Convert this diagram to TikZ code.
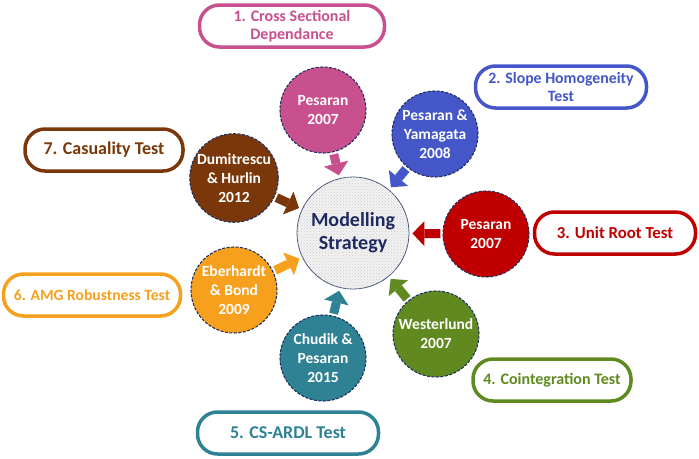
\documentclass[tikz,border=0pt]{standalone}
\usepackage{fontspec}
\setmainfont{Carlito}
\usepackage{xcolor}
\usepackage{tikz}
\usetikzlibrary{shapes,arrows,arrows.meta,positioning,patterns,calc}
\definecolor{modnavy}{RGB}{31,42,98}
\definecolor{modslate}{RGB}{68,84,120}
\definecolor{dashnavy}{RGB}{32,48,96}
\definecolor{modpink}{RGB}{201,80,142}
\definecolor{modblue}{RGB}{68,86,200}
\definecolor{modred}{RGB}{192,0,0}
\definecolor{modgreen}{RGB}{96,138,32}
\definecolor{modteal}{RGB}{46,130,148}
\definecolor{modorange}{RGB}{247,160,30}
\definecolor{modbrown}{RGB}{122,56,10}
\tikzset{
    hub/.style={circle, draw=modslate, line width=0.8pt, fill=gray!10, postaction={pattern=crosshatch dots, pattern color=gray!40}, minimum size=112pt, text=modnavy, align=center, font=\fontsize{20}{23}\selectfont\bfseries},
    sat/.style={circle, draw=dashnavy, dash pattern=on 3pt off 1.5pt, line width=1.1pt, minimum size=86pt, inner sep=0pt, text=white, align=center, font=\fontsize{15.5}{19}\selectfont\bfseries},
    pill/.style={rectangle, draw, line width=3.5pt, fill=white, rounded corners=20pt, minimum height=42pt, align=center, font=\fontsize{18}{19}\selectfont\bfseries},
    push/.style={line width=9pt, -{Triangle[length=12pt, width=25pt, line width=0pt]}, shorten <=2pt, shorten >=3pt}
}

\begin{document}
\begin{tikzpicture}[x=1pt, y=-1pt]
    \useasboundingbox (0,0) rectangle (699,458);

    % Central strategy
    \node [hub] (mdl) at (353,233) {Modelling\\Strategy};

    % Studies around it
    \node [sat, fill=modpink] (pes1) at ([shift={(-30,-123)}]mdl) {Pesaran\\2007};
    \node [sat, fill=modblue] (pesy) at ([shift={(82,-99)}]mdl) {Pesaran \&\\Yamagata\\2008};
    \node [sat, fill=modred] (pes2) at ([shift={(133,1)}]mdl) {Pesaran\\2007};
    \node [sat, fill=modgreen] (west) at ([shift={(83,101)}]mdl) {Westerlund\\2007};
    \node [sat, fill=modteal] (chud) at ([shift={(-30,125)}]mdl) {Chudik \&\\Pesaran\\2015};
    \node [sat, fill=modorange] (eber) at ([shift={(-119,57)}]mdl) {Eberhardt\\\& Bond\\2009};
    \node [sat, fill=modbrown] (dumi) at ([shift={(-119,-55)}]mdl) {Dumitrescu\\\& Hurlin\\2012};

    % Arrows into the strategy
    \draw [push, modpink] (pes1) -- (mdl);
    \draw [push, modblue] (pesy) -- (mdl);
    \draw [push, modred] (pes2) -- (mdl);
    \draw [push, modgreen] (west) -- (mdl);
    \draw [push, modteal] (chud) -- (mdl);
    \draw [push, modorange] (eber) -- (mdl);
    \draw [push, modbrown] (dumi) -- (mdl);

    % Test labels
    \node [pill, draw=modpink, text=modpink, minimum width=185pt, font=\fontsize{16}{18}\selectfont\bfseries] (csd) at (292,26) {1. Cross Sectional\\Dependance};
    \node [pill, draw=modblue, text=modblue, minimum width=171pt, font=\fontsize{15.8}{18}\selectfont\bfseries] (slope) at (561,87) {2. Slope Homogeneity\\Test};
    \node [pill, draw=modred, text=modred, minimum width=161pt, font=\fontsize{16.8}{19}\selectfont\bfseries] (unit) at (615,233) {3. Unit Root Test};
    \node [pill, draw=modgreen, text=modgreen, minimum width=158pt, font=\fontsize{16}{18}\selectfont\bfseries] (coint) at (552,380) {4. Cointegration Test};
    \node [pill, draw=modteal, text=modteal, minimum width=181pt] (ardl) at (288,433) {5. CS-ARDL Test};
    \node [pill, draw=modorange, text=modorange, minimum width=177pt, font=\fontsize{15.6}{18}\selectfont\bfseries] (amg) at (92,295) {6. AMG Robustness Test};
    \node [pill, draw=modbrown, text=modbrown, minimum width=158pt] (caus) at (104,150) {7. Casuality Test};
\end{tikzpicture}
\end{document}
